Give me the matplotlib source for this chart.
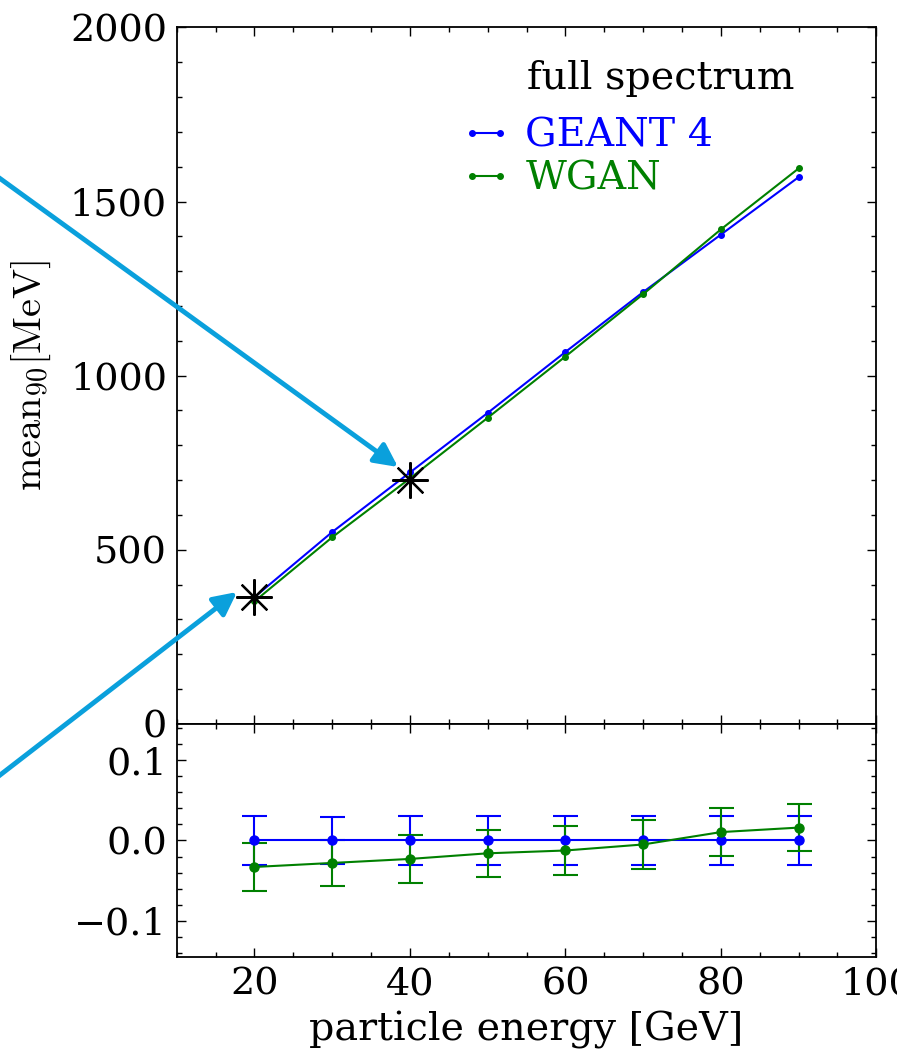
import numpy as np
import matplotlib
matplotlib.use("Agg")
import matplotlib.pyplot as plt
from matplotlib.ticker import MultipleLocator

plt.rcParams['font.family'] = ['DejaVu Serif']
plt.rcParams['mathtext.fontset'] = 'cm'

# data
energy = [20, 30, 40, 50, 60, 70, 80, 90]
geant_mean = [364, 551, 722, 893, 1068, 1240, 1405, 1570]
wgan_mean = [352, 536, 705, 879, 1055, 1234, 1420, 1595]
geant_ratio = [0, 0, 0, 0, 0, 0, 0, 0]
geant_err = [0.030, 0.029, 0.030, 0.030, 0.030, 0.030, 0.030, 0.030]
wgan_ratio = [-0.033, -0.028, -0.023, -0.016, -0.0125, -0.005, 0.0104, 0.016]
wgan_err = [0.030, 0.029, 0.030, 0.029, 0.030, 0.030, 0.030, 0.029]
star_x = [20, 40]
star_y = [365, 700]

fig = plt.figure(figsize=(8.97, 10.53), dpi=100)
ax = fig.add_axes([0.197, 0.3125, 0.780, 0.6615])
ax2 = fig.add_axes([0.197, 0.0912, 0.780, 0.2213], sharex=ax)

ax.plot(energy, geant_mean, color='blue', marker='o', ms=4, lw=1.5, label='GEANT 4')
ax.plot(energy, wgan_mean, color='green', marker='o', ms=4, lw=1.5, label='WGAN')
ax.plot(star_x, star_y, ls='none', marker=(8, 2, 0), ms=26, mew=1.6, color='black', zorder=5)

ax.set_xlim(10, 100)
ax.set_ylim(0, 2000)
ax.yaxis.set_major_locator(MultipleLocator(500))
ax.yaxis.set_minor_locator(MultipleLocator(100))
ax.set_ylabel(r'$\mathrm{mean}_{90}[\mathrm{MeV}]$', fontsize=29, labelpad=12)
plt.setp(ax.get_xticklabels(), visible=False)

ax.text(0.5007, 0.927, 'full spectrum', transform=ax.transAxes, fontsize=28.5,
        ha='left', va='center')
leg = ax.legend(loc='upper left', bbox_to_anchor=(0.405, 0.870), frameon=False,
                fontsize=28.5, numpoints=2, handlelength=1.3, handletextpad=0.35,
                labelspacing=0.15, borderaxespad=0, borderpad=0)
for txt, c in zip(leg.get_texts(), ['blue', 'green']):
    txt.set_color(c)

ax2.errorbar(energy, geant_ratio, yerr=geant_err, color='blue', marker='o', ms=6.5,
             lw=1.5, capsize=9, elinewidth=1.5, capthick=1.5)
ax2.errorbar(energy, wgan_ratio, yerr=wgan_err, color='green', marker='o', ms=6.5,
             lw=1.5, capsize=9, elinewidth=1.5, capthick=1.5)
ax2.set_ylim(-0.145, 0.145)
ax2.yaxis.set_major_locator(MultipleLocator(0.1))
ax2.yaxis.set_minor_locator(MultipleLocator(0.02))
ax2.xaxis.set_major_locator(MultipleLocator(20))
ax2.xaxis.set_minor_locator(MultipleLocator(5))
ax2.set_xlabel('particle energy [GeV]', fontsize=28.5, labelpad=6)

for a in (ax, ax2):
    a.tick_params(which='both', direction='in', top=True, right=True, labelsize=27.5, pad=7)
    a.tick_params(which='major', length=6.7, width=1)
    a.tick_params(which='minor', length=3.8, width=1)
    for s in a.spines.values():
        s.set_linewidth(1.3)

arrow_color = '#0aa0dc'
ax.annotate('', xy=(398 / 897, 1 - 467 / 1053), xytext=(-0.01, 1 - 172 / 1053),
            xycoords='figure fraction', textcoords='figure fraction',
            arrowprops=dict(arrowstyle='-|>', color=arrow_color, lw=3.5,
                            mutation_scale=35, shrinkA=0, shrinkB=0))
ax.annotate('', xy=(237 / 897, 1 - 592 / 1053), xytext=(-0.01, 1 - 782 / 1053),
            xycoords='figure fraction', textcoords='figure fraction',
            arrowprops=dict(arrowstyle='-|>', color=arrow_color, lw=3.5,
                            mutation_scale=35, shrinkA=0, shrinkB=0))

fig.savefig('out.png', dpi=100)
